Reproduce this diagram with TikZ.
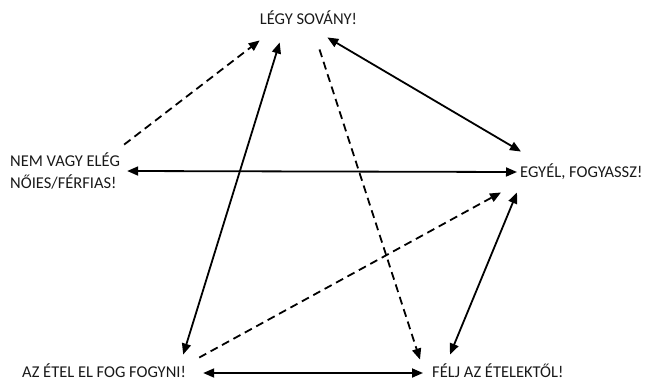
\documentclass[tikz,border=0pt]{standalone}
\usepackage{fontspec}
\setmainfont{Carlito}
\usetikzlibrary{arrows.meta,positioning}

\begin{document}
\begin{tikzpicture}[x=1pt, y=-1pt,
  tx/.style={inner sep=0pt, text height=10.5pt, text depth=0pt, font=\fontsize{16.5}{22}\selectfont, text=black!90},
  arr/.style={{Triangle[length=11pt,width=9pt]}-{Triangle[length=11pt,width=9pt]}, line width=1.8pt},
  dsh/.style={-{Triangle[length=11pt,width=9pt]}, line width=1.8pt, dash pattern=on 8pt off 5pt}]
\useasboundingbox (0,0) rectangle (651,381);
\node[tx] (legy)  at (308.5,19)           {LÉGY SOVÁNY!};
\node[tx, anchor=west] (egyel) at (520,172) {EGYÉL, FOGYASSZ!};
\node[tx, anchor=west] (az)    at (22,372)  {AZ ÉTEL EL FOG FOGYNI!};
\node[tx, anchor=west] (felj)  at (432,372) {FÉLJ AZ ÉTELEKTŐL!};
\node[inner sep=0pt, anchor=west, align=left, font=\fontsize{16.5}{22}\selectfont, text=black!90] (nem) at (10,171)
  {NEM VAGY ELÉG\\NŐIES/FÉRFIAS!};
\draw[dsh] ([shift={(4,-8)}]nem.north east) -- ([shift={(0,16)}]legy.south west);
\draw[arr] ([shift={(-3,-12)}]az.north east) -- ([shift={(20,18)}]legy.south west);
\draw[dsh] ([shift={(11,25)}]legy.south) -- ([shift={(-12,-7)}]felj.north west);
\draw[arr] ([shift={(-30,13)}]legy.south east) -- ([shift={(1,-15)}]egyel.north west);
\draw[arr] ([shift={(7,0)}]nem.east) -- ([shift={(-3,0)}]egyel.west);
\draw[dsh] ([shift={(13,-9)}]az.north east) -- ([shift={(-19,15)}]egyel.south west);
\draw[arr] ([shift={(-3,15)}]egyel.south west) -- ([shift={(18,-12)}]felj.north west);
\draw[arr] ([shift={(17,1)}]az.east) -- ([shift={(-9,1)}]felj.west);
\end{tikzpicture}
\end{document}
